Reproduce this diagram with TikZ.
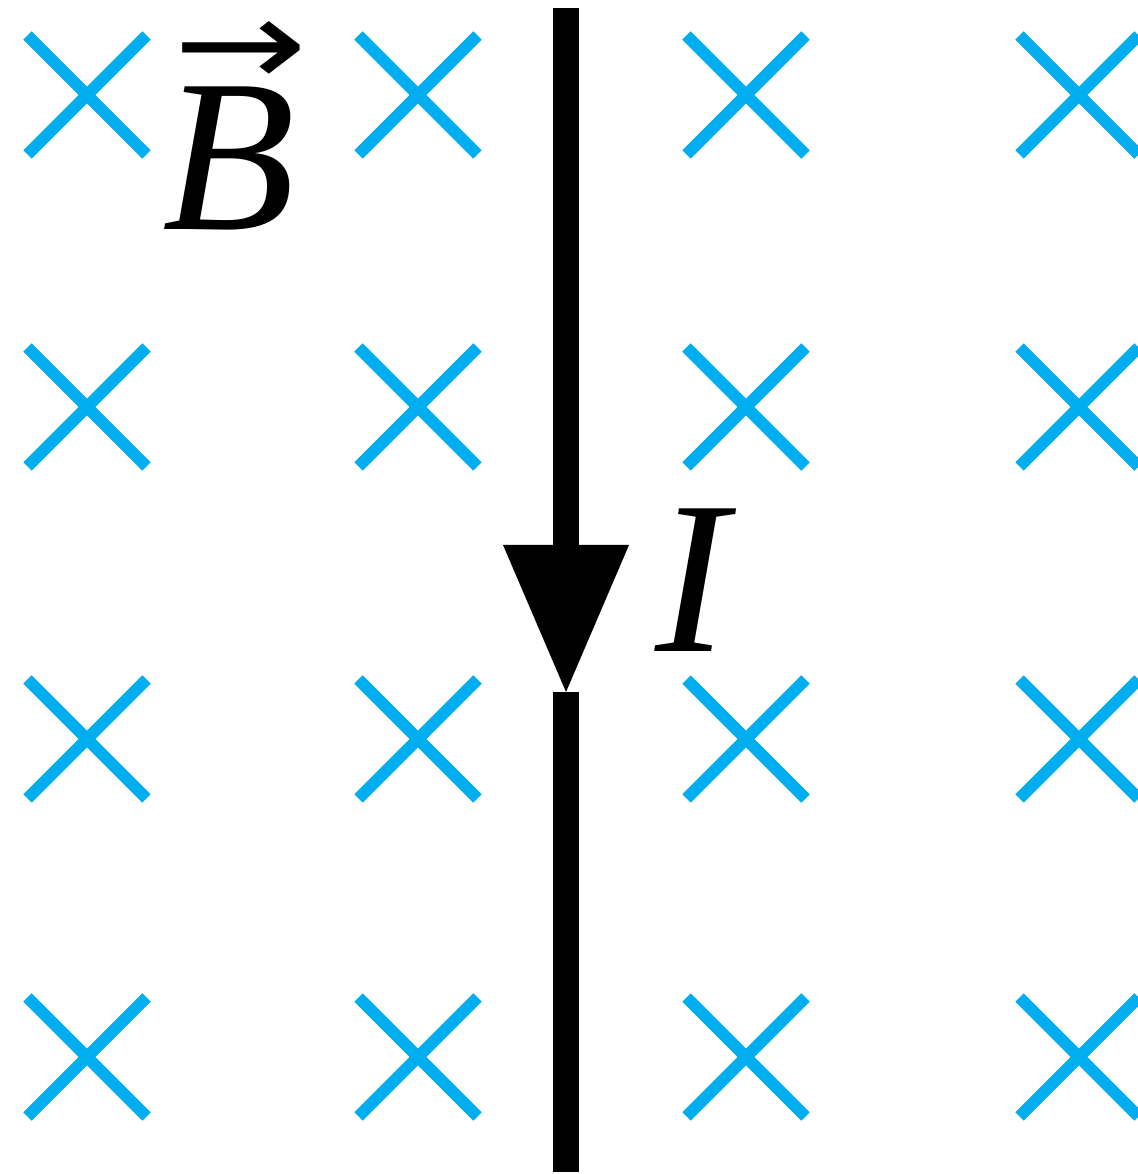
\documentclass[tikz,border=0pt]{standalone}
\usepackage{fontspec}
\setmainfont{Liberation Serif}
\newfontfamily\arrowfont{DejaVu Sans}
\usetikzlibrary{shapes.misc, calc}
\definecolor{fieldcyan}{HTML}{00AEEF}
\tikzset{
    fieldx/.style={cross out, draw=fieldcyan, line width=0.12cm, minimum size=1.07cm, inner sep=0pt},
    wire/.style={line width=0.26cm},
    lbl/.style={inner sep=0pt, font=\fontsize{62}{62}\selectfont},
}

\begin{document}
\begin{tikzpicture}

\useasboundingbox (0,0) rectangle (11.38,11.74);

% Field into the page
\foreach \x [count=\i] in {0.87,4.18,7.46,10.79}
  \foreach \y [count=\j] in {10.79,7.67,4.35,1.17}
    \node[fieldx] (x\i\j) at (\x,\y) {};

% Wire
\coordinate (top) at (5.66,11.66);
\coordinate (base) at (5.66,6.29);
\coordinate (tip) at (5.66,4.82);
\coordinate (bot) at (5.66,0.02);
\draw[wire] (top) -- (base);
\fill ($(base)+(-0.63,0)$) -- ($(base)+(0.63,0)$) -- (tip) -- cycle;
\draw[wire] (tip) -- (bot);

% Labels
\node[lbl, anchor=base west] (B) at (1.62,9.44)
  {\makebox[0pt][l]{\hspace*{0.11cm}\raisebox{1.43cm}{\scalebox{1.12}[0.86]{\resizebox{1.2cm}{!}{\arrowfont →}}}}\itshape B};
\node[lbl, anchor=base west] (I) at (6.55,5.22) {\itshape I};

\end{tikzpicture}
\end{document}
